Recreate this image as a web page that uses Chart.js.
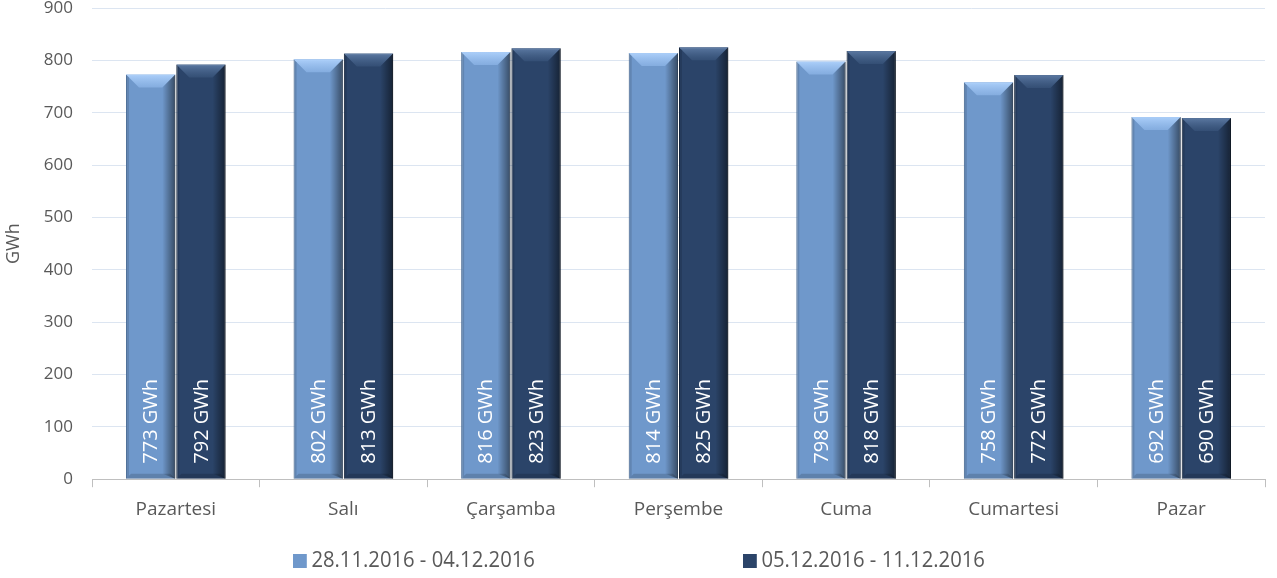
<!DOCTYPE html>
<html>
<head>
<meta charset="utf-8">
<script src="https://cdn.jsdelivr.net/npm/chart.js@4"></script>
<style>
  body { margin: 0; background: #fff; }
  #wrap { position: relative; width: 1277px; height: 578px; }
  #legend { position: absolute; top: 542px; left: 0; width: 1277px; height: 32px; font-family: "Open Sans", sans-serif; font-size: 22px; line-height: 32px; color: #595959; }
  .item { position: absolute; top: 0; white-space: nowrap; transform: scaleX(0.92); transform-origin: left center; }
  .box { display: inline-block; width: 15px; height: 14px; margin-right: 5px; vertical-align: -1px; }
</style>
</head>
<body>
<div id="wrap">
  <canvas id="chartBar" width="1277" height="578"></canvas>
  <div id="legend"></div>
</div>
<script>
const days = ["Pazartesi", "Salı", "Çarşamba", "Perşembe", "Cuma", "Cumartesi", "Pazar"];
const weekLabels = ["28.11.2016 - 04.12.2016", "05.12.2016 - 11.12.2016"];
const week1 = [773, 802, 816, 814, 798, 758, 692];
const week2 = [792, 813, 823, 825, 818, 772, 690];
const colors = ["#6f98cb", "#2b4469"];
const unit = "GWh";

// bevel look + vertical value labels drawn over each bar
const barDecor = {
  id: "barDecor",
  afterDatasetsDraw(chart) {
    const ctx = chart.ctx;
    chart.data.datasets.forEach((ds, di) => {
      const meta = chart.getDatasetMeta(di);
      meta.data.forEach((bar, i) => {
        const left = bar.x - bar.width / 2;
        const right = bar.x + bar.width / 2;
        const top = bar.y;
        const bottom = bar.base;
        const b = 13;
        ctx.save();
        // top bevel
        const tg = ctx.createLinearGradient(0, top, 0, top + b);
        tg.addColorStop(0, di === 0 ? "rgba(175,210,252,0.95)" : "rgba(100,130,172,0.85)");
        tg.addColorStop(1, di === 0 ? "rgba(150,190,240,0.55)" : "rgba(70,100,140,0.35)");
        ctx.fillStyle = tg;
        ctx.beginPath();
        ctx.moveTo(left, top);
        ctx.lineTo(right, top);
        ctx.lineTo(right - b, top + b);
        ctx.lineTo(left + b, top + b);
        ctx.closePath();
        ctx.fill();
        // left side shade
        ctx.fillStyle = "rgba(0,0,0,0.12)";
        ctx.beginPath();
        ctx.moveTo(left, top);
        ctx.lineTo(left + 3, top + 3);
        ctx.lineTo(left + 3, bottom - 3);
        ctx.lineTo(left, bottom);
        ctx.closePath();
        ctx.fill();
        // right side shade
        const g = ctx.createLinearGradient(right - b, 0, right, 0);
        g.addColorStop(0, "rgba(0,0,0,0)");
        g.addColorStop(1, "rgba(0,0,0,0.5)");
        ctx.fillStyle = g;
        ctx.beginPath();
        ctx.moveTo(right, top);
        ctx.lineTo(right - b, top + b);
        ctx.lineTo(right - b, bottom - 5);
        ctx.lineTo(right, bottom);
        ctx.closePath();
        ctx.fill();
        // bottom shade
        ctx.fillStyle = "rgba(0,0,0,0.15)";
        ctx.beginPath();
        ctx.moveTo(left, bottom);
        ctx.lineTo(left + 5, bottom - 5);
        ctx.lineTo(right - 5, bottom - 5);
        ctx.lineTo(right, bottom);
        ctx.closePath();
        ctx.fill();
        // label
        ctx.translate(bar.x + 1, bottom - 15);
        ctx.rotate(-Math.PI / 2);
        ctx.fillStyle = "#ffffff";
        ctx.font = "20px 'Open Sans', sans-serif";
        ctx.textAlign = "left";
        ctx.textBaseline = "middle";
        ctx.fillText(ds.data[i] + " " + unit, 0, 0);
        ctx.restore();
      });
    });
  }
};

const dataBar = {
  labels: days,
  datasets: [
    { label: weekLabels[0], data: week1, backgroundColor: colors[0], borderColor: "#5a7fae", borderWidth: 1 },
    { label: weekLabels[1], data: week2, backgroundColor: colors[1], borderColor: "#1b2c45", borderWidth: 1 },
  ],
};

const configBar = {
  type: "bar",
  data: dataBar,
  options: {
    responsive: false,
    animation: false,
    layout: { padding: { left: 0, right: 12, top: 0, bottom: 46 } },
    datasets: { bar: { categoryPercentage: 0.6, barPercentage: 0.98 } },
    plugins: { legend: { display: false }, tooltip: { enabled: false } },
    scales: {
      x: {
        grid: { offset: true, drawOnChartArea: false, color: "#bfbfbf", tickLength: 8 },
        border: { color: "#bfbfbf" },
        ticks: { color: "#595959", font: { family: "Open Sans", size: 19 }, padding: 11 },
      },
      y: {
        min: 0,
        max: 900,
        ticks: { stepSize: 100, color: "#595959", font: { family: "Open Sans", size: 17, lineHeight: 1 }, padding: 19 },
        grid: { color: "#dce5f1", drawTicks: false },
        border: { display: false },
        title: { display: true, text: unit, color: "#595959", font: { family: "Open Sans", size: 18 }, padding: 3 },
        afterFit(scale) {
          scale.width = 92;
          scale.paddingTop = 8;
        },
      },
    },
  },
  plugins: [barDecor],
};

const chartBar = new Chart(document.getElementById("chartBar"), configBar);

// legend as html below the chart
const legendEl = document.getElementById("legend");
const legendX = [293, 743];
weekLabels.forEach((text, i) => {
  const item = document.createElement("span");
  item.className = "item";
  item.style.left = legendX[i] + "px";
  item.innerHTML = '<span class="box" style="background:' + colors[i] + '"></span>' + text;
  legendEl.appendChild(item);
});
</script>
</body>
</html>
